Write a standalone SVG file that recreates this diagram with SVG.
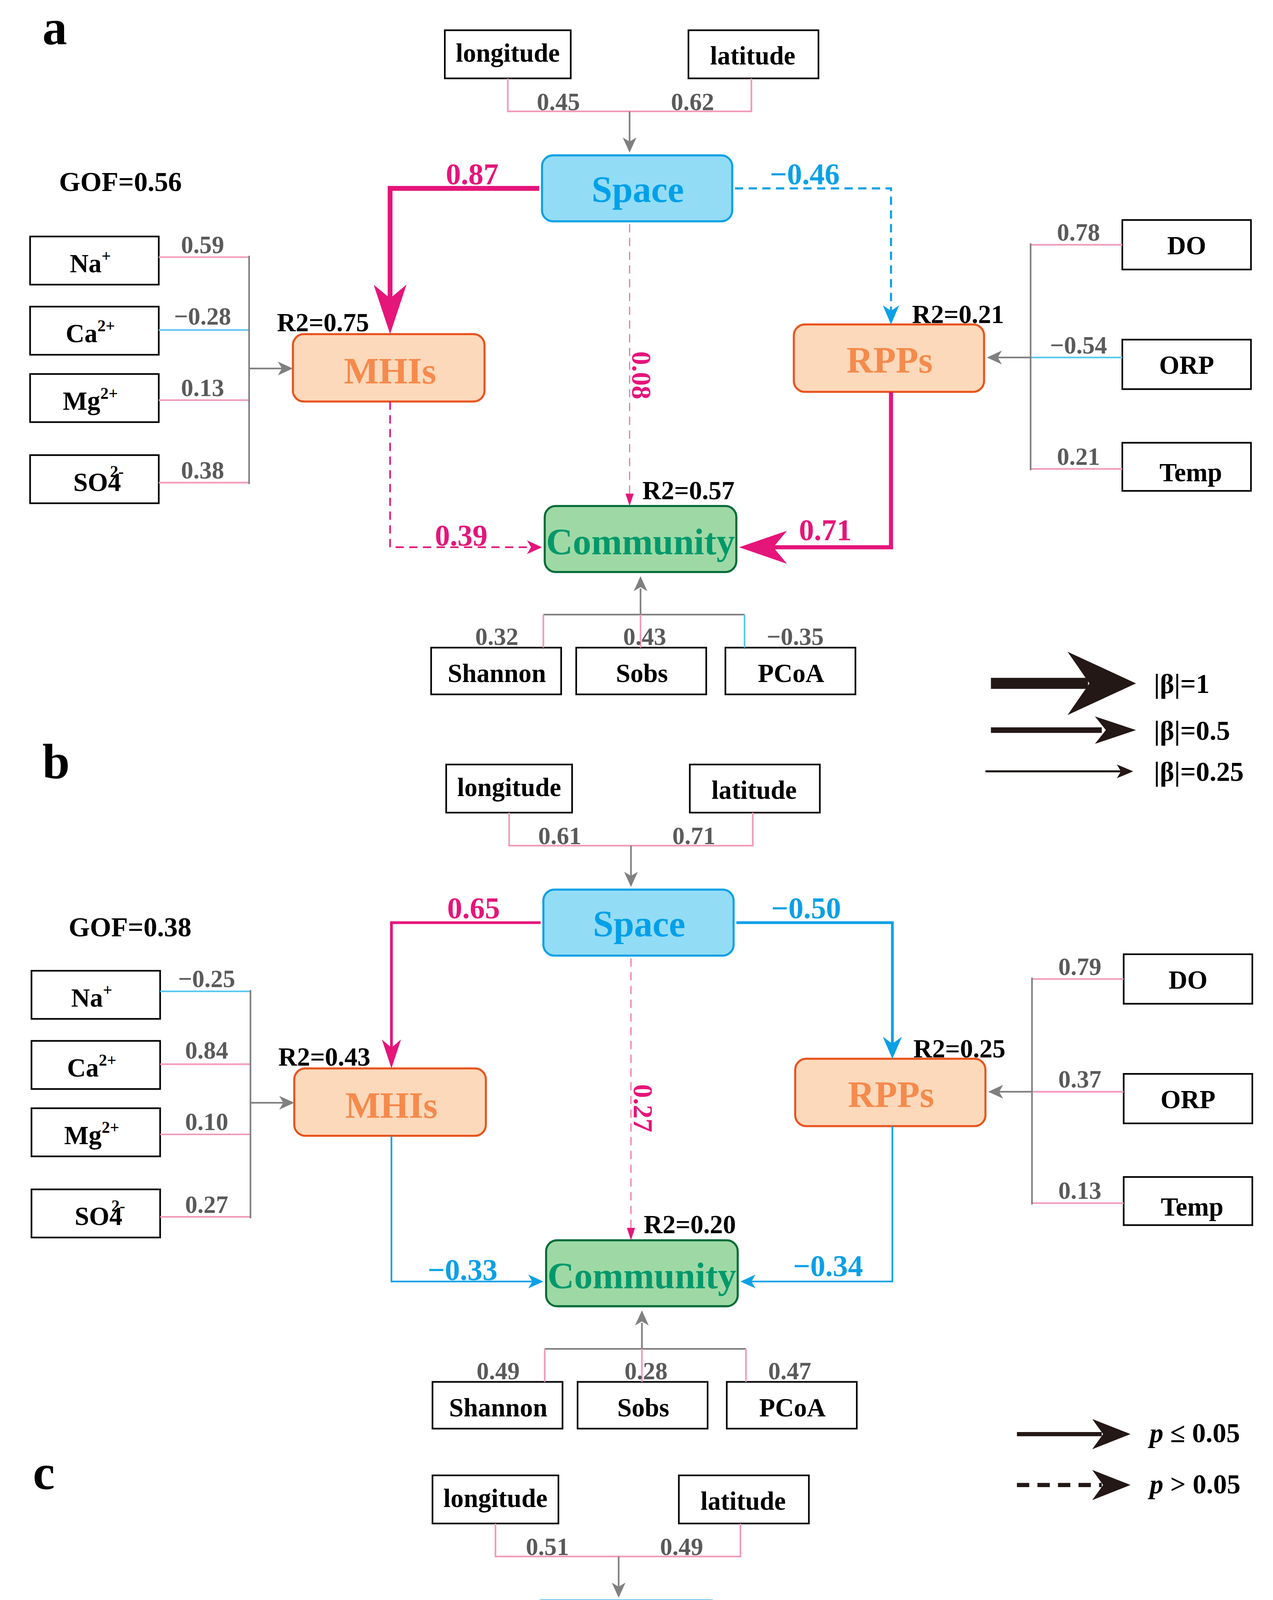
<svg xmlns="http://www.w3.org/2000/svg" width="3260" height="5503" viewBox="0 0 3260 5503">
<style>
text{font-family:"Liberation Serif","Times New Roman",serif;font-weight:bold}
.lab{font-size:19px;text-anchor:middle;fill:#000}
.val{font-size:18px;text-anchor:middle;fill:#5a5a5a}
.mv{font-size:22px;text-anchor:middle;fill:#e5157a}
.bv{font-size:22px;text-anchor:middle;fill:#0aa0e6}
.r2{font-size:19px;text-anchor:middle;fill:#000}
.box{fill:#fff;stroke:#000;stroke-width:1.2}
.sp{fill:#93dcf5;stroke:#0aa0e6;stroke-width:1.5}
.or{fill:#fdd9bb;stroke:#e8541e;stroke-width:1.5}
.cm{fill:#9ed9a5;stroke:#036b38;stroke-width:1.5}
.spt{font-size:27px;text-anchor:middle;fill:#00a0e9}
.ort{font-size:27px;text-anchor:middle;fill:#f58a4c}
.cmt{font-size:27px;text-anchor:middle;fill:#00996b}
.g{fill:none;stroke:#808080;stroke-width:1.2}
.pk{fill:none;stroke:#f29ab8;stroke-width:1.2}
.lb{fill:none;stroke:#5bc8f0;stroke-width:1.2}
.ga{fill:#808080}
.m{fill:none;stroke:#e5157a}
.b{fill:none;stroke:#0aa0e6}
.mf{fill:#e5157a}
.bf{fill:#0aa0e6}
.k{fill:#231815}
</style>
<g transform="scale(3.505,3.52)">
<!-- Panel A -->
<g id="panelA">
<text x="40" y="32" style="font-size:36px" text-anchor="middle">a</text>
<g id="a-longitude"><rect class="box" x="325" y="22" width="92" height="35"/><text class="lab" x="371" y="45">longitude</text></g>
<g id="a-latitude"><rect class="box" x="503" y="22" width="95" height="35"/><text class="lab" x="550" y="47">latitude</text></g>
<g id="a-space"><rect class="sp" x="396" y="113" width="139" height="48" rx="8"/><text class="spt" x="466" y="147">Space</text></g>
<g id="a-mhis"><rect class="or" x="214" y="243" width="140" height="49" rx="8"/><text class="ort" x="285" y="279">MHIs</text></g>
<g id="a-rpps"><rect class="or" x="580" y="236" width="139" height="49" rx="8"/><text class="ort" x="650" y="271">RPPs</text></g>
<g id="a-community"><rect class="cm" x="398" y="368" width="140" height="48" rx="8"/><text class="cmt" x="468" y="403">Community</text></g>
<g id="a-na"><rect class="box" x="22" y="172" width="94" height="35"/><text class="lab" x="66" y="198">Na<tspan dy="-8" style="font-size:12px">+</tspan></text></g>
<g id="a-ca"><rect class="box" x="22" y="223" width="94" height="35"/><text class="lab" x="66" y="249">Ca<tspan dy="-8" style="font-size:12px">2+</tspan></text></g>
<g id="a-mg"><rect class="box" x="22" y="272" width="94" height="35"/><text class="lab" x="66" y="298">Mg<tspan dy="-8" style="font-size:12px">2+</tspan></text></g>
<g id="a-so4"><rect class="box" x="22" y="331" width="94" height="35"/><text class="lab" x="72" y="357">SO4<tspan dx="-8" dy="-10" style="font-size:12px">2-</tspan></text></g>
<g id="a-do"><rect class="box" x="820" y="160" width="94" height="36"/><text class="lab" x="867" y="185">DO</text></g>
<g id="a-orp"><rect class="box" x="820" y="247" width="94" height="36"/><text class="lab" x="867" y="272">ORP</text></g>
<g id="a-temp"><rect class="box" x="820" y="322" width="94" height="35"/><text class="lab" x="870" y="350">Temp</text></g>
<g id="a-shannon"><rect class="box" x="315" y="471" width="95" height="34"/><text class="lab" x="363" y="496">Shannon</text></g>
<g id="a-sobs"><rect class="box" x="421" y="471" width="95" height="34"/><text class="lab" x="469" y="496">Sobs</text></g>
<g id="a-pcoa"><rect class="box" x="530" y="471" width="95" height="34"/><text class="lab" x="578" y="496">PCoA</text></g>
<text x="88" y="139" style="font-size:20px" text-anchor="middle">GOF=0.56</text>
<g id="a-connectors">
<polyline class="pk" points="371,57 371,81 549,81 549,57"/>
<line class="g" x1="460" y1="81" x2="460" y2="104"/><polygon class="ga" points="455,100 460,111 465,100 460,103"/>
<text class="val" x="408" y="80">0.45</text><text class="val" x="506" y="80">0.62</text>
<polyline class="m" style="stroke-width:3.5" points="394,137 285,137 285,225"/><polygon class="mf" points="273,207 285,243 297,207 285,217"/>
<text class="mv" x="345" y="134">0.87</text>
<polyline class="b" style="stroke-width:1.5;stroke-dasharray:6,4" points="537,137 651,137 651,226"/><polygon class="bf" points="645,222 651,236 657,222 651,226"/>
<text class="bv" x="588" y="134">−0.46</text>
<line class="m" style="stroke-width:0.8;stroke-dasharray:6,4;stroke:#f06aa0" x1="460" y1="163" x2="460" y2="362"/><polygon class="mf" points="457,359 460,368 463,359"/>
<text class="mv" transform="translate(462,273) rotate(90)" style="font-size:20px">0.08</text>
<polyline class="m" style="stroke-width:1.2;stroke-dasharray:6,4" points="285,292 285,398 388,398"/><polygon class="mf" points="385,393 396,398 385,403 388,398"/>
<text class="mv" x="337" y="397">0.39</text>
<polyline class="m" style="stroke-width:3" points="651,285 651,398 560,398"/><polygon class="mf" points="575,386 540,398 575,410 565,398"/>
<text class="mv" x="603" y="393">0.71</text>
<polyline class="pk" points="116,187 182,187"/><polyline class="lb" points="116,240 182,240"/><polyline class="pk" points="116,291 182,291"/><polyline class="pk" points="116,351 182,351"/>
<line class="g" x1="182" y1="186" x2="182" y2="352"/><line class="g" x1="182" y1="268" x2="206" y2="268"/><polygon class="ga" points="203,263 214,268 203,273 206,268"/>
<text class="val" x="148" y="184">0.59</text><text class="val" x="148" y="236">−0.28</text><text class="val" x="148" y="288">0.13</text><text class="val" x="148" y="348">0.38</text>
<polyline class="pk" points="753,178 820,178"/><polyline class="lb" points="753,260 820,260"/><polyline class="pk" points="753,341 820,341"/>
<line class="g" x1="753" y1="177" x2="753" y2="342"/><line class="g" x1="753" y1="260" x2="729" y2="260"/><polygon class="ga" points="732,255 721,260 732,265 729,260"/>
<text class="val" x="788" y="175">0.78</text><text class="val" x="788" y="257">−0.54</text><text class="val" x="788" y="338">0.21</text>
<line class="g" x1="397" y1="447" x2="544" y2="447"/>
<line class="pk" x1="397" y1="447" x2="397" y2="471"/><line class="pk" x1="468" y1="447" x2="468" y2="471"/><line class="lb" x1="544" y1="447" x2="544" y2="471"/>
<line class="g" x1="468" y1="447" x2="468" y2="428"/><polygon class="ga" points="463,430 468,419 473,430 468,427"/>
<text class="val" x="363" y="469">0.32</text><text class="val" x="471" y="469">0.43</text><text class="val" x="581" y="469">−0.35</text>
</g>
<text class="r2" x="236" y="241">R2=0.75</text><text class="r2" x="700" y="235">R2=0.21</text><text class="r2" x="503" y="363">R2=0.57</text>
</g>

<!-- Panel B -->
<g id="panelB" transform="translate(1,534)">
<text x="40" y="32" style="font-size:36px" text-anchor="middle">b</text>
<g id="b-longitude"><rect class="box" x="325" y="22" width="92" height="35"/><text class="lab" x="371" y="45">longitude</text></g>
<g id="b-latitude"><rect class="box" x="503" y="22" width="95" height="35"/><text class="lab" x="550" y="47">latitude</text></g>
<g id="b-space"><rect class="sp" x="396" y="113" width="139" height="48" rx="8"/><text class="spt" x="466" y="147">Space</text></g>
<g id="b-mhis"><rect class="or" x="214" y="243" width="140" height="49" rx="8"/><text class="ort" x="285" y="279">MHIs</text></g>
<g id="b-rpps"><rect class="or" x="580" y="236" width="139" height="49" rx="8"/><text class="ort" x="650" y="271">RPPs</text></g>
<g id="b-community"><rect class="cm" x="398" y="368" width="140" height="48" rx="8"/><text class="cmt" x="468" y="403">Community</text></g>
<g id="b-na"><rect class="box" x="22" y="172" width="94" height="35"/><text class="lab" x="66" y="198">Na<tspan dy="-8" style="font-size:12px">+</tspan></text></g>
<g id="b-ca"><rect class="box" x="22" y="223" width="94" height="35"/><text class="lab" x="66" y="249">Ca<tspan dy="-8" style="font-size:12px">2+</tspan></text></g>
<g id="b-mg"><rect class="box" x="22" y="272" width="94" height="35"/><text class="lab" x="66" y="298">Mg<tspan dy="-8" style="font-size:12px">2+</tspan></text></g>
<g id="b-so4"><rect class="box" x="22" y="331" width="94" height="35"/><text class="lab" x="72" y="357">SO4<tspan dx="-8" dy="-10" style="font-size:12px">2-</tspan></text></g>
<g id="b-do"><rect class="box" x="820" y="160" width="94" height="36"/><text class="lab" x="867" y="185">DO</text></g>
<g id="b-orp"><rect class="box" x="820" y="247" width="94" height="36"/><text class="lab" x="867" y="272">ORP</text></g>
<g id="b-temp"><rect class="box" x="820" y="322" width="94" height="35"/><text class="lab" x="870" y="350">Temp</text></g>
<g id="b-shannon"><rect class="box" x="315" y="471" width="95" height="34"/><text class="lab" x="363" y="496">Shannon</text></g>
<g id="b-sobs"><rect class="box" x="421" y="471" width="95" height="34"/><text class="lab" x="469" y="496">Sobs</text></g>
<g id="b-pcoa"><rect class="box" x="530" y="471" width="95" height="34"/><text class="lab" x="578" y="496">PCoA</text></g>
<text x="94" y="147" style="font-size:20px" text-anchor="middle">GOF=0.38</text>
<g id="b-connectors">
<polyline class="pk" points="371,57 371,81 549,81 549,57"/>
<line class="g" x1="460" y1="81" x2="460" y2="104"/><polygon class="ga" points="455,100 460,111 465,100 460,103"/>
<text class="val" x="408" y="80">0.61</text><text class="val" x="506" y="80">0.71</text>
<polyline class="m" style="stroke-width:2" points="394,137 285,137 285,230"/><polygon class="mf" points="278,222 285,243 292,222 285,228"/>
<text class="mv" x="345" y="134">0.65</text>
<polyline class="b" style="stroke-width:2" points="537,137 651,137 651,226"/><polygon class="bf" points="644,220 651,236 658,220 651,225"/>
<text class="bv" x="588" y="134">−0.50</text>
<line class="m" style="stroke-width:0.8;stroke-dasharray:6,4;stroke:#f06aa0" x1="460" y1="163" x2="460" y2="362"/><polygon class="mf" points="457,359 460,368 463,359"/>
<text class="mv" transform="translate(462,272) rotate(90)" style="font-size:20px">0.27</text>
<polyline class="b" style="stroke-width:1.2" points="285,292 285,398 388,398"/><polygon class="bf" points="385,393 396,398 385,403 388,398"/>
<text class="bv" x="337" y="397">−0.33</text>
<polyline class="b" style="stroke-width:1.2" points="651,285 651,398 548,398"/><polygon class="bf" points="551,393 540,398 551,403 548,398"/>
<text class="bv" x="604" y="394">−0.34</text>
<polyline class="lb" points="116,187 182,187"/><polyline class="pk" points="116,240 182,240"/><polyline class="pk" points="116,291 182,291"/><polyline class="pk" points="116,351 182,351"/>
<line class="g" x1="182" y1="186" x2="182" y2="352"/><line class="g" x1="182" y1="268" x2="206" y2="268"/><polygon class="ga" points="203,263 214,268 203,273 206,268"/>
<text class="val" x="150" y="184">−0.25</text><text class="val" x="150" y="236">0.84</text><text class="val" x="150" y="288">0.10</text><text class="val" x="150" y="348">0.27</text>
<polyline class="pk" points="753,178 820,178"/><polyline class="pk" points="753,260 820,260"/><polyline class="pk" points="753,341 820,341"/>
<line class="g" x1="753" y1="177" x2="753" y2="342"/><line class="g" x1="753" y1="260" x2="729" y2="260"/><polygon class="ga" points="732,255 721,260 732,265 729,260"/>
<text class="val" x="788" y="175">0.79</text><text class="val" x="788" y="257">0.37</text><text class="val" x="788" y="338">0.13</text>
<line class="g" x1="397" y1="447" x2="544" y2="447"/>
<line class="pk" x1="397" y1="447" x2="397" y2="471"/><line class="pk" x1="468" y1="447" x2="468" y2="471"/><line class="pk" x1="544" y1="447" x2="544" y2="471"/>
<line class="g" x1="468" y1="447" x2="468" y2="428"/><polygon class="ga" points="463,430 468,419 473,430 468,427"/>
<text class="val" x="363" y="469">0.49</text><text class="val" x="471" y="469">0.28</text><text class="val" x="576" y="469">0.47</text>
</g>
<text class="r2" x="236" y="241">R2=0.43</text><text class="r2" x="700" y="235">R2=0.25</text><text class="r2" x="503" y="363">R2=0.20</text>
</g>

<!-- Panel C -->
<g id="panelC" transform="translate(-8,1051)">
<text x="40" y="32" style="font-size:36px" text-anchor="middle">c</text>
<g id="c-longitude"><rect class="box" x="324" y="22" width="92" height="35"/><text class="lab" x="370" y="45">longitude</text></g>
<g id="c-latitude"><rect class="box" x="504" y="22" width="95" height="35"/><text class="lab" x="551" y="47">latitude</text></g>
<g id="c-space"><rect class="sp" x="396" y="113" width="139" height="48" rx="8"/><text class="spt" x="466" y="147">Space</text></g>
<g id="c-mhis"><rect class="or" x="214" y="244" width="140" height="48" rx="8"/><text class="ort" x="285" y="280">MHIs</text></g>
<g id="c-rpps"><rect class="or" x="580" y="237" width="140" height="48" rx="8"/><text class="ort" x="650" y="272">RPPs</text></g>
<g id="c-community"><rect class="cm" x="398" y="369" width="140" height="48" rx="8"/><text class="cmt" x="468" y="404">Community</text></g>
<g id="c-na"><rect class="box" x="22" y="173" width="95" height="35"/><text class="lab" x="66" y="199">Na<tspan dy="-8" style="font-size:12px">+</tspan></text></g>
<g id="c-ca"><rect class="box" x="22" y="223" width="95" height="35"/><text class="lab" x="66" y="249">Ca<tspan dy="-8" style="font-size:12px">2+</tspan></text></g>
<g id="c-mg"><rect class="box" x="22" y="273" width="95" height="35"/><text class="lab" x="66" y="299">Mg<tspan dy="-8" style="font-size:12px">2+</tspan></text></g>
<g id="c-so4"><rect class="box" x="22" y="331" width="95" height="35"/><text class="lab" x="72" y="357">SO4<tspan dx="-8" dy="-10" style="font-size:12px">2-</tspan></text></g>
<g id="c-do"><rect class="box" x="819" y="161" width="96" height="35"/><text class="lab" x="867" y="186">DO</text></g>
<g id="c-orp"><rect class="box" x="820" y="247" width="96" height="35"/><text class="lab" x="868" y="272">ORP</text></g>
<g id="c-temp"><rect class="box" x="820" y="323" width="96" height="35"/><text class="lab" x="870" y="350">Temp</text></g>
<g id="c-shannon"><rect class="box" x="315" y="470" width="95" height="34"/><text class="lab" x="363" y="495">Shannon</text></g>
<g id="c-sobs"><rect class="box" x="421" y="470" width="95" height="34"/><text class="lab" x="469" y="495">Sobs</text></g>
<g id="c-pcoa"><rect class="box" x="530" y="470" width="95" height="34"/><text class="lab" x="578" y="495">PCoA</text></g>
<text x="103" y="153" style="font-size:20px" text-anchor="middle">GOF=0.65</text>
<g id="c-connectors">
<polyline class="pk" points="370,57 370,81 549,81 549,57"/>
<line class="g" x1="460" y1="81" x2="460" y2="104"/><polygon class="ga" points="455,100 460,111 465,100 460,103"/>
<text class="val" x="408" y="80">0.51</text><text class="val" x="506" y="80">0.49</text>
<polyline class="b" style="stroke-width:3.5" points="394,137 285,137 285,225"/><polygon class="bf" points="273,207 285,244 297,207 285,217"/>
<text class="bv" x="345" y="134">−0.95</text>
<polyline class="b" style="stroke-width:2.2;stroke-dasharray:7,5" points="537,137 651,137 651,226"/><polygon class="bf" points="643,217 651,237 659,217 651,224"/>
<text class="bv" x="603" y="134">−0.67</text>
<line class="b" style="stroke-width:1;stroke-dasharray:8,6" x1="460" y1="163" x2="460" y2="360"/><polygon class="bf" points="456,356 460,369 464,356"/>
<text class="bv" transform="translate(462,251) rotate(90)" style="font-size:20px;text-anchor:start">−0.41</text>
<polyline class="m" style="stroke-width:2.5;stroke-dasharray:7,5" points="285,292 285,394"/><polyline class="m" style="stroke-width:3.5;stroke-dasharray:4,4" points="285,394 370,394"/><polygon class="mf" points="361,379 398,394 361,409 371,394"/>
<text class="mv" x="327" y="394">1.01</text>
<polyline class="m" style="stroke-width:3" points="651,285 651,396 560,396"/><polygon class="mf" points="575,384 540,396 575,408 565,396"/>
<text class="mv" x="605" y="393">0.96</text>
<polyline class="pk" points="117,187 182,187"/><polyline class="lb" points="117,240 182,240"/><polyline class="lb" points="117,290 182,290"/><polyline class="pk" points="117,351 182,351"/>
<line class="g" x1="182" y1="186" x2="182" y2="352"/><line class="g" x1="182" y1="268" x2="206" y2="268"/><polygon class="ga" points="203,263 214,268 203,273 206,268"/>
<text class="val" x="148" y="184">0.43</text><text class="val" x="150" y="236">−0.31</text><text class="val" x="150" y="288">−0.15</text><text class="val" x="148" y="348">0.38</text>
<polyline class="pk" points="753,178 819,178"/><polyline class="lb" points="753,260 820,260"/><polyline class="pk" points="753,341 820,341"/>
<line class="g" x1="753" y1="177" x2="753" y2="342"/><line class="g" x1="753" y1="260" x2="729" y2="260"/><polygon class="ga" points="732,255 721,260 732,265 729,260"/>
<text class="val" x="788" y="175">0.60</text><text class="val" x="790" y="257">−0.80</text><text class="val" x="788" y="338">0.48</text>
<line class="g" x1="397" y1="447" x2="544" y2="447"/>
<line class="pk" x1="397" y1="447" x2="397" y2="470"/><line class="lb" x1="468" y1="447" x2="468" y2="470"/><line class="lb" x1="544" y1="447" x2="544" y2="470"/>
<line class="g" x1="468" y1="447" x2="468" y2="429"/><polygon class="ga" points="463,431 468,420 473,431 468,428"/>
<text class="val" x="363" y="469">0.63</text><text class="val" x="470" y="469">−0.12</text><text class="val" x="581" y="469">−0.34</text>
</g>
<text class="r2" x="236" y="242">R2=0.91</text><text class="r2" x="700" y="235">R2=0.46</text><text class="r2" x="503" y="363">R2=0.73</text>
</g>

<!-- Legends -->
<g id="legend-beta">
<line x1="724" y1="497" x2="795" y2="497" stroke="#231815" stroke-width="8"/><polygon class="k" points="780,474 830,497 780,520 796,497"/>
<text x="843" y="504" style="font-size:20px">|β|=1</text>
<line x1="724" y1="531" x2="805" y2="531" stroke="#231815" stroke-width="4"/><polygon class="k" points="800,521 830,531 800,541 808,531"/>
<text x="843" y="538" style="font-size:20px">|β|=0.5</text>
<line x1="720" y1="561" x2="820" y2="561" stroke="#231815" stroke-width="1.5"/><polygon class="k" points="816,556 828,561 816,566 819,561"/>
<text x="843" y="568" style="font-size:20px">|β|=0.25</text>
</g>
<g id="legend-p">
<line x1="743" y1="1043" x2="805" y2="1043" stroke="#231815" stroke-width="3"/><polygon class="k" points="798,1032 826,1043 798,1054 806,1043"/>
<text x="840" y="1049" style="font-size:20px"><tspan font-style="italic">p</tspan> ≤ 0.05</text>
<line x1="743" y1="1080" x2="805" y2="1080" stroke="#231815" stroke-width="3" stroke-dasharray="9,6"/><polygon class="k" points="798,1069 826,1080 798,1091 806,1080"/>
<text x="840" y="1086" style="font-size:20px"><tspan font-style="italic">p</tspan> &gt; 0.05</text>
</g>
</g>
</svg>
